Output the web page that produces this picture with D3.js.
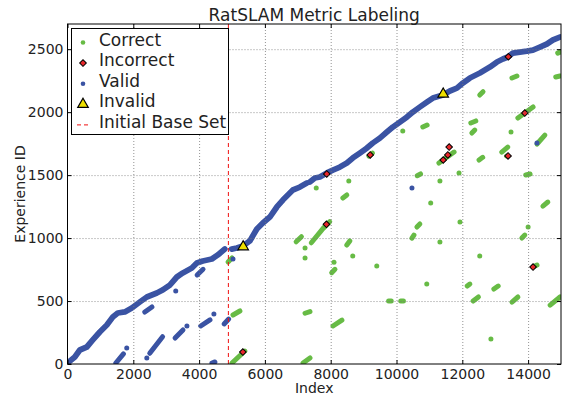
<!DOCTYPE html>
<html>
<head>
<meta charset="utf-8">
<script src="https://cdn.jsdelivr.net/npm/d3@7"></script>
<style>
    body { margin: 0; background: #fff; }
    svg { display: block; font-family: "DejaVu Sans", sans-serif; }
</style>
</head>
<body>
<svg id="chart" width="574" height="398"></svg>
<script>
'use strict';

var title = 'RatSLAM Metric Labeling';
var xLabel = 'Index';
var yLabel = 'Experience ID';
var xTicks = [0, 2000, 4000, 6000, 8000, 10000, 12000, 14000];
var yTicks = [0, 500, 1000, 1500, 2000, 2500];
var baseSetIndex = 4890;

// trails of "Valid" experiences, each a run of [index, experience id]
var validTrails = [
    [[0, 8], [222, 56], [374, 111], [587, 135], [769, 191], [982, 254], [1195, 310],
     [1377, 373], [1529, 405], [1742, 413], [1955, 445], [2198, 492], [2411, 532],
     [2715, 564], [2897, 588], [3110, 627], [3323, 691], [3505, 723], [3779, 762],
     [3931, 802], [4113, 818], [4387, 834], [4569, 866], [4782, 913]],
    [[4990, 913], [5147, 921], [5329, 937], [5542, 977], [5755, 1072], [5937, 1120],
     [6150, 1167], [6363, 1247], [6545, 1302], [6849, 1382], [7062, 1405], [7275, 1437]],
    [[7366, 1445], [7518, 1477], [7670, 1485], [7883, 1517], [8065, 1540], [8278, 1564],
     [8491, 1596], [8673, 1636], [8886, 1675], [9099, 1715], [9281, 1755], [9494, 1794],
     [9707, 1842], [9889, 1882], [10102, 1921], [10315, 1961], [10497, 2001], [10710, 2041],
     [10923, 2080], [11105, 2112], [11409, 2136], [11622, 2168], [11835, 2191],
     [12017, 2231], [12230, 2271], [12534, 2311], [12838, 2358], [13051, 2398],
     [13233, 2422], [13385, 2438], [13537, 2469], [13750, 2477], [13963, 2485],
     [14145, 2493], [14358, 2517], [14571, 2541], [14753, 2573], [14966, 2596]],
    [[1470, 8], [1700, 80]],
    [[1800, 127]],
    [[2410, 48]],
    [[2350, 413], [2565, 453]],
    [[2500, 85], [2890, 217]],
    [[3290, 580]],
    [[3270, 206], [3510, 270]],
    [[3630, 302]],
    [[3940, 707], [4120, 752]],
    [[4050, 302], [4330, 350]],
    [[4450, 397]],
    [[4390, 8], [4480, 16]],
    [[4760, 318], [4900, 357]],
    [[5030, 834]],
    [[10470, 1397]],
    [[14270, 1755]]
];

// trails of "Correct" matches
var correctTrails = [
    [[4880, 810], [5000, 842]],
    [[5030, 389], [5240, 421]],
    [[5000, 8], [5390, 103]],
    [[6950, 971], [7110, 1011]],
    [[7220, 921]],
    [[7220, 842]],
    [[7560, 1397]],
    [[8550, 1453]],
    [[8370, 1318], [8490, 1342]],
    [[11320, 1453]],
    [[11040, 1278]],
    [[14450, 1254], [14600, 1286]],
    [[7410, 963], [7770, 1077], [7970, 1130]],
    [[8490, 945], [8580, 977]],
    [[8100, 808]],
    [[8670, 858]],
    [[8030, 725], [8130, 752]],
    [[9400, 778]],
    [[10620, 1088], [10710, 1112]],
    [[10470, 1000], [10530, 1024]],
    [[11320, 969]],
    [[11930, 1128]],
    [[12530, 858]],
    [[10920, 635]],
    [[12150, 619], [12230, 635]],
    [[9760, 500], [9840, 500]],
    [[10130, 500], [10210, 500]],
    [[12330, 500], [12490, 532]],
    [[12960, 595], [13090, 619]],
    [[13510, 492], [13690, 532]],
    [[13810, 1000], [13900, 1024]],
    [[14000, 1088]],
    [[14150, 770], [14270, 786]],
    [[14670, 468], [14970, 532]],
    [[7220, 403], [7370, 416]],
    [[8070, 302], [8340, 349]],
    [[12870, 198]],
    [[7160, 8], [7370, 48]],
    [[9160, 1650], [9270, 1675]],
    [[10190, 1850]],
    [[10800, 1882], [10930, 1898]],
    [[10630, 1495], [10730, 1509]],
    [[11900, 1517]],
    [[12510, 1620], [12620, 1641]],
    [[12530, 2136], [12630, 2162]],
    [[12260, 1914], [12410, 1930]],
    [[12290, 1834], [12380, 1858]],
    [[13480, 1842]],
    [[13510, 2271], [13660, 2287]],
    [[13200, 1683], [13380, 1723]],
    [[13350, 1652]],
    [[13690, 1953], [14150, 2041]],
    [[13930, 1501], [14060, 1509]],
    [[14270, 1747], [14510, 1818]],
    [[14900, 2469], [14970, 2477]],
    [[14840, 2279], [14970, 2287]],
    [[11290, 1596], [11750, 1683]]
];

var incorrectPoints = [
    [5330, 95], [7870, 1109], [7880, 1509], [9200, 1660], [11420, 1620],
    [11560, 1660], [11600, 1723], [13390, 1652], [13900, 1993], [13400, 2440],
    [14150, 770]
];

var invalidPoints = [[5340, 931], [11420, 2144]];

var colors = {
    correct: '#67bb45',
    incorrect: '#e8262a',
    valid: '#3a53a3',
    invalid: '#eee000',
    text: '#222'
};

var margin = {left: 67.5, top: 24, right: 13, bottom: 34},
    width = 574,
    height = 398;

var x = d3.scaleLinear().domain([0, 15000]).range([margin.left, width - margin.right]),
    y = d3.scaleLinear().domain([0, 2700]).range([height - margin.bottom, margin.top]);

var svg = d3.select('#chart');

svg.append('defs').append('clipPath')
    .attr('id', 'plot-clip')
    .append('rect')
    .attr('x', x(0)).attr('y', y(2700))
    .attr('width', x(15000) - x(0)).attr('height', y(0) - y(2700));

var plot = svg.append('g').attr('clip-path', 'url(#plot-clip)');

var line = d3.line()
    .x(d => x(d[0]))
    .y(d => y(d[1]));

// Draw a list of trails: runs become thick round lines, lone points become dots
function drawTrails(trails, color, thickness, cls) {
    var g = plot.append('g').attr('class', cls);
    g.selectAll('path')
        .data(trails.filter(t => t.length > 1))
        .enter().append('path')
        .attr('d', line)
        .attr('fill', 'none')
        .attr('stroke', color)
        .attr('stroke-width', thickness)
        .attr('stroke-linecap', 'round')
        .attr('stroke-linejoin', 'round');
    g.selectAll('circle')
        .data(trails.filter(t => t.length === 1))
        .enter().append('circle')
        .attr('cx', d => x(d[0][0]))
        .attr('cy', d => y(d[0][1]))
        .attr('r', thickness / 2)
        .attr('fill', color);
}

drawTrails(correctTrails, colors.correct, 5, 'correct');
drawTrails(validTrails.slice(0, 3), colors.valid, 5.8, 'valid-main');
drawTrails(validTrails.slice(3), colors.valid, 5, 'valid');

var diamond = d3.symbol().type(d3.symbolSquare).size(22);
plot.append('g').attr('class', 'incorrect')
    .selectAll('path')
    .data(incorrectPoints)
    .enter().append('path')
    .attr('d', diamond)
    .attr('transform', d => `translate(${x(d[0])},${y(d[1])}) rotate(45)`)
    .attr('fill', colors.incorrect)
    .attr('stroke', '#000')
    .attr('stroke-width', 1);

var triangle = d3.symbol().type(d3.symbolTriangle).size(48);
plot.append('g').attr('class', 'invalid')
    .selectAll('path')
    .data(invalidPoints)
    .enter().append('path')
    .attr('d', triangle)
    .attr('transform', d => `translate(${x(d[0])},${y(d[1])})`)
    .attr('fill', colors.invalid)
    .attr('stroke', '#000')
    .attr('stroke-width', 1.2);

// initial base set boundary
plot.append('line')
    .attr('x1', x(baseSetIndex)).attr('x2', x(baseSetIndex))
    .attr('y1', y(0)).attr('y2', y(2700))
    .attr('stroke', '#f01010')
    .attr('stroke-width', 1)
    .attr('stroke-dasharray', '4,3');

// dotted grid
var grid = svg.append('g').attr('class', 'grid')
    .attr('stroke', '#777')
    .attr('stroke-width', 0.8)
    .attr('stroke-dasharray', '1,2');
grid.selectAll('.gx')
    .data(xTicks.filter(v => v > 0))
    .enter().append('line')
    .attr('x1', d => x(d) + 0.5).attr('x2', d => x(d) + 0.5)
    .attr('y1', y(0)).attr('y2', y(2700));
grid.selectAll('.gy')
    .data(yTicks.filter(v => v > 0))
    .enter().append('line')
    .attr('x1', x(0)).attr('x2', x(15000))
    .attr('y1', d => y(d) + 0.5).attr('y2', d => y(d) + 0.5);

// axes, ticks pointing inward on all four sides
function styleAxis(g) {
    g.select('.domain').remove();
    g.selectAll('line').attr('stroke', '#000');
    g.selectAll('text')
        .attr('fill', colors.text)
        .style('font-size', '14px')
        .style('font-family', '"DejaVu Sans", sans-serif');
}

var fmt = d3.format('d');

svg.append('g')
    .attr('transform', `translate(0,${y(0)})`)
    .call(d3.axisBottom(x).tickValues(xTicks).tickFormat(fmt)
        .tickSizeInner(-4).tickSizeOuter(0).tickPadding(5))
    .call(styleAxis);
svg.append('g')
    .attr('transform', `translate(${x(0)},0)`)
    .call(d3.axisLeft(y).tickValues(yTicks).tickFormat(fmt)
        .tickSizeInner(-4).tickSizeOuter(0).tickPadding(4))
    .call(styleAxis);
svg.append('g')
    .attr('transform', `translate(0,${y(2700)})`)
    .call(d3.axisTop(x).tickValues(xTicks).tickSizeInner(-4).tickSizeOuter(0).tickFormat(''))
    .call(styleAxis);
svg.append('g')
    .attr('transform', `translate(${x(15000)},0)`)
    .call(d3.axisRight(y).tickValues(yTicks).tickSizeInner(-4).tickSizeOuter(0).tickFormat(''))
    .call(styleAxis);

svg.append('rect')
    .attr('x', x(0)).attr('y', y(2700))
    .attr('width', x(15000) - x(0)).attr('height', y(0) - y(2700))
    .attr('fill', 'none')
    .attr('stroke', '#000')
    .attr('stroke-width', 1);

// titles
svg.append('text')
    .attr('x', (x(0) + x(15000)) / 2).attr('y', 21)
    .attr('text-anchor', 'middle')
    .attr('fill', colors.text)
    .style('font-size', '17px')
    .text(title);
svg.append('text')
    .attr('x', (x(0) + x(15000)) / 2).attr('y', 393)
    .attr('text-anchor', 'middle')
    .attr('fill', colors.text)
    .style('font-size', '14px')
    .text(xLabel);
svg.append('text')
    .attr('transform', `translate(25,${(y(0) + y(2700)) / 2}) rotate(-90)`)
    .attr('text-anchor', 'middle')
    .attr('fill', colors.text)
    .style('font-size', '14px')
    .text(yLabel);

// legend
var legendItems = [
    {label: 'Correct', kind: 'correct'},
    {label: 'Incorrect', kind: 'incorrect'},
    {label: 'Valid', kind: 'valid'},
    {label: 'Invalid', kind: 'invalid'},
    {label: 'Initial Base Set', kind: 'base'}
];

var legend = svg.append('g').attr('class', 'legend');
legend.append('rect')
    .attr('x', 71.5).attr('y', 28.5)
    .attr('width', 157).attr('height', 106)
    .attr('fill', '#fff')
    .attr('stroke', '#000')
    .attr('stroke-width', 1);

var rows = legend.selectAll('.row')
    .data(legendItems)
    .enter().append('g')
    .attr('class', 'row')
    .attr('transform', (d, i) => `translate(0,${42.5 + i * 20.6})`);

rows.append('text')
    .attr('x', 99).attr('y', 3)
    .attr('fill', colors.text)
    .style('font-size', '17px')
    .text(d => d.label);

rows.each(function(d) {
    var row = d3.select(this);
    if (d.kind === 'correct' || d.kind === 'valid') {
        row.append('circle')
            .attr('cx', 83).attr('cy', 0).attr('r', 2.3)
            .attr('fill', colors[d.kind]);
    } else if (d.kind === 'incorrect') {
        row.append('path')
            .attr('d', diamond)
            .attr('transform', 'translate(83,0) rotate(45)')
            .attr('fill', colors.incorrect)
            .attr('stroke', '#000');
    } else if (d.kind === 'invalid') {
        row.append('path')
            .attr('d', triangle)
            .attr('transform', 'translate(83,0)')
            .attr('fill', colors.invalid)
            .attr('stroke', '#000')
            .attr('stroke-width', 1.2);
    } else {
        row.append('line')
            .attr('x1', 77).attr('x2', 89)
            .attr('y1', 0).attr('y2', 0)
            .attr('stroke', '#f01010')
            .attr('stroke-dasharray', '4,3');
    }
});
</script>
</body>
</html>
